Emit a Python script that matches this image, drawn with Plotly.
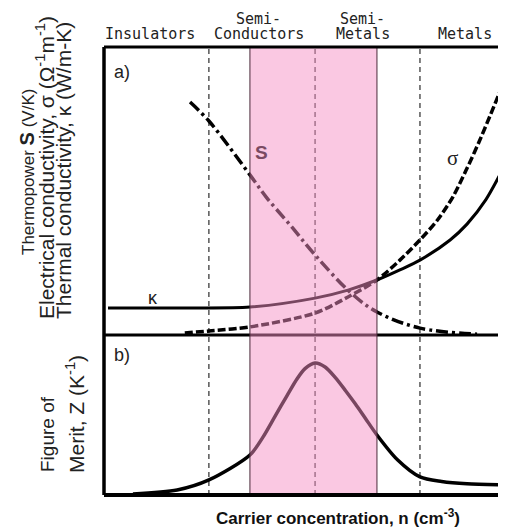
import plotly.graph_objects as go

# x is log carrier concentration in arbitrary units (0..10 across the plot)
s_x = [2.14, 2.61, 3.63, 4.05, 4.63, 5.25, 6.12, 6.79, 7.86, 9.28]
s_y = [0.809, 0.743, 0.556, 0.476, 0.382, 0.278, 0.149, 0.080, 0.024, 0.003]

kappa_x = [0.10, 1.89, 3.63, 5.25, 6.07, 6.79, 7.36, 7.86, 8.61, 9.03, 9.5, 10.0]
kappa_y = [0.094, 0.094, 0.097, 0.128, 0.156, 0.191, 0.226, 0.260, 0.330, 0.385, 0.47, 0.597]

sigma_x = [2.01, 2.61, 3.63, 5.25, 6.07, 6.79, 7.36, 7.86, 8.30, 8.68, 9.00, 9.35, 10.0]
sigma_y = [0.007, 0.014, 0.028, 0.076, 0.132, 0.191, 0.260, 0.330, 0.400, 0.480, 0.570, 0.677, 0.896]

z_x = [0.72, 1.82, 2.61, 3.63, 3.95, 4.25, 4.55, 4.80, 5.00, 5.25, 5.50, 5.75, 6.00, 6.25, 6.50, 6.79, 7.30, 7.86, 8.40, 9.03, 9.85]
z_y = [0.006, 0.031, 0.094, 0.25, 0.36, 0.49, 0.62, 0.725, 0.79, 0.825, 0.80, 0.735, 0.655, 0.57, 0.48, 0.375, 0.22, 0.113, 0.085, 0.07, 0.063]

region_names = ["Insulators", "Semi-|Conductors", "Semi-|Metals", "Metals"]
region_x = [1.15, 3.85, 6.44, 8.98]
dividers = [2.61, 5.25, 7.86]
band = [3.63, 6.79]

split = 160 / 448  # panel b height share

# page body adds an 8px offset, so the figure is 8px smaller than the window
W, H = 498, 522
L, T, B = 96, 39, 35


def px(xp):
    return (xp - 8 - L) / (W - L)


def py(yp):
    return (H - B - (yp - 8)) / (H - T - B)


fig = go.Figure()
fig.add_trace(go.Scatter(x=kappa_x, y=kappa_y, yaxis="y2", mode="lines", line_shape="spline",
                         line=dict(color="black", width=3, smoothing=0.8)))
fig.add_trace(go.Scatter(x=sigma_x, y=sigma_y, yaxis="y2", mode="lines", line_shape="spline",
                         line=dict(color="black", width=3.5, dash="8px,3px", smoothing=0.8)))
fig.add_trace(go.Scatter(x=s_x, y=s_y, yaxis="y2", mode="lines", line_shape="spline",
                         line=dict(color="black", width=3.5, dash="12px,4px,3px,4px")))
fig.add_trace(go.Scatter(x=z_x, y=z_y, mode="lines", line_shape="spline",
                         line=dict(color="black", width=3.5, smoothing=0.8)))

shapes = []
for d in dividers:
    shapes.append(dict(type="line", xref="x", yref="paper", x0=d, x1=d, y0=0, y1=1, layer="above",
                       line=dict(color="black", width=1, dash="5px,4px")))
shapes.append(dict(type="line", xref="paper", yref="paper", x0=0, x1=1, y0=split, y1=split, layer="above",
                   line=dict(color="black", width=3)))
# pink band, semi-transparent so curves below it turn mauve
shapes.append(dict(type="rect", xref="x", yref="paper", x0=band[0], x1=band[1], y0=0, y1=1, layer="above",
                   fillcolor="rgba(245,143,196,0.49)", line=dict(width=0)))
for b in band:
    shapes.append(dict(type="line", xref="x", yref="paper", x0=b, x1=b, y0=0, y1=1, layer="above",
                       line=dict(color="#4a2a3a", width=1)))
shapes.append(dict(type="line", xref="paper", yref="paper", x0=0, x1=1, y0=1, y1=1, layer="above",
                   line=dict(color="black", width=3)))
shapes.append(dict(type="line", xref="paper", yref="paper", x0=0, x1=1, y0=0, y1=0, layer="above",
                   line=dict(color="black", width=4)))
shapes.append(dict(type="line", xref="paper", yref="paper", x0=0, x1=0, y0=0, y1=1, layer="above",
                   line=dict(color="black", width=3.5)))

ann = []
top_font = dict(family="DejaVu Sans Mono", size=15, color="#222")
for name, rx in zip(region_names, region_x):
    parts = name.split("|")
    if len(parts) == 2:
        ann.append(dict(x=rx, y=py(19), xref="x", yref="paper", text=parts[0], showarrow=False,
                        xanchor="center", yanchor="middle", font=top_font))
    ann.append(dict(x=rx, y=py(34), xref="x", yref="paper", text=parts[-1], showarrow=False,
                    xanchor="center", yanchor="middle", font=top_font))


def side_label(xp, yp, text, size, yanchor="middle"):
    return dict(x=px(xp), y=py(yp), xref="paper", yref="paper", textangle=-90, showarrow=False,
                xanchor="center", yanchor=yanchor, text=text,
                font=dict(family="Liberation Sans, Arial", size=size, color="#222"))


ann += [
    side_label(27, 172, "Thermopower <b><span style='font-size:20px'>S</span></b> (V/K)", 17),
    side_label(45, 168, "Electrical conductivity, σ (Ω<sup>-1</sup>m<sup>-1</sup>)", 21),
    side_label(63, 171, "Thermal conductivity, κ (W/m-K)", 21),
    side_label(47, 474, "Figure of", 19, "bottom"),
    side_label(75, 475, "Merit, Z (K<sup>-1</sup>)", 21, "bottom"),
    dict(x=px(338), y=py(517), xref="paper", yref="paper", showarrow=False,
         xanchor="center", yanchor="middle",
         font=dict(family="Liberation Sans, Arial", size=17, color="#111"),
         text="<b>Carrier concentration, n (cm<sup>-3</sup>)</b>"),
    dict(x=0.45, y=0.913, xref="x", yref="y2", text="a)", showarrow=False, font=dict(family="Liberation Sans", size=18, color="#222")),
    dict(x=0.45, y=0.875, xref="x", yref="y", text="b)", showarrow=False, font=dict(family="Liberation Sans", size=18, color="#222")),
    dict(x=3.91, y=0.635, xref="x", yref="y2", text="<b>S</b>", showarrow=False,
         font=dict(family="Liberation Sans", size=19, color="#7a4a62")),
    dict(x=8.68, y=0.615, xref="x", yref="y2", text="σ", showarrow=False,
         font=dict(family="Liberation Serif", size=21, color="#222")),
    dict(x=1.22, y=0.128, xref="x", yref="y2", text="κ", showarrow=False,
         font=dict(family="Liberation Sans", size=18, color="#222")),
]

fig.update_layout(
    width=W, height=H,
    margin=dict(l=L, r=0, t=T, b=B),
    paper_bgcolor="white", plot_bgcolor="white",
    showlegend=False,
    xaxis=dict(range=[0, 10], showgrid=False, zeroline=False, showticklabels=False, ticks=""),
    yaxis=dict(domain=[0, split], range=[0, 1], showgrid=False, zeroline=False, showticklabels=False),
    yaxis2=dict(domain=[split, 1], range=[0, 1], showgrid=False, zeroline=False, showticklabels=False),
    shapes=shapes,
    annotations=ann,
)

fig.write_html("out.html")
